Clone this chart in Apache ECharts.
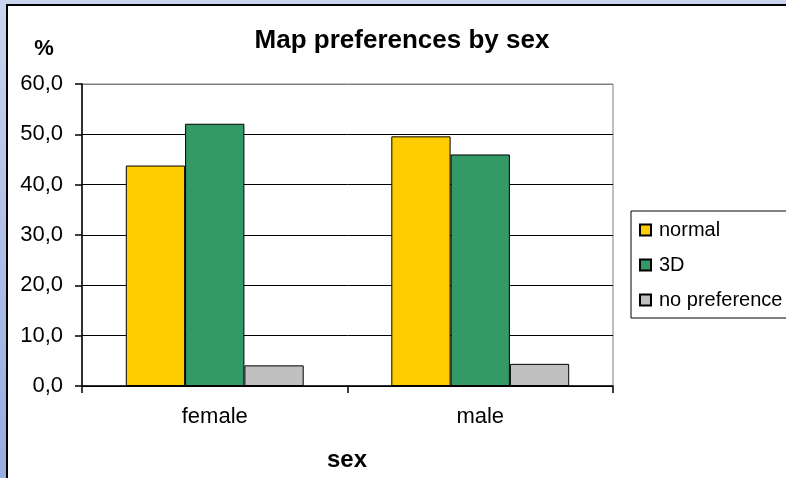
<!DOCTYPE html>
<html>
<head>
<meta charset="utf-8">
<script src="https://cdn.jsdelivr.net/npm/echarts@6/dist/echarts.min.js"></script>
<style>
  html, body { margin: 0; padding: 0; }
  body {
    width: 786px; height: 478px; overflow: hidden; position: relative;
    background: linear-gradient(to bottom, #cbd4ee, #97abe0);
  }
  .frame {
    position: absolute; left: 6px; top: 4px; width: 780px; height: 474px;
    box-sizing: border-box; border-left: 2px solid #000; border-top: 2px solid #000;
    background: #fff;
  }
  #chart { width: 778px; height: 472px; }
</style>
</head>
<body>
<div class="frame"><div id="chart"></div></div>
<script>
// data
var categories = ['female', 'male'];
var seriesNames = ['normal', '3D', 'no preference'];
var normalValues = [43.8, 49.6];
var threeDValues = [52.1, 46.0];
var noPrefValues = [4.1, 4.4];
var seriesColors = ['#FFCC00', '#339966', '#C0C0C0'];

var myChart = echarts.init(document.getElementById('chart'));

var font = 'Arial, "Liberation Sans", sans-serif';

function makeBar(name, data, color) {
    return {
        name: name,
        type: 'bar',
        data: data,
        barGap: '0%',
        barCategoryGap: '33%',
        itemStyle: { color: color, borderColor: '#000', borderWidth: 1 }
    };
}

var option = {
    animation: false,
    textStyle: { fontFamily: font },
    graphic: [
        { type: 'text', x: 394, y: 35,
          style: { text: 'Map preferences by sex', font: 'bold 26px ' + font, fill: '#000', align: 'center', verticalAlign: 'middle' } },
        { type: 'text', x: 36, y: 43,
          style: { text: '%', font: 'bold 22px ' + font, fill: '#000', align: 'center', verticalAlign: 'middle' } },
        { type: 'text', x: 339, y: 454,
          style: { text: 'sex', font: 'bold 24px ' + font, fill: '#000', align: 'center', verticalAlign: 'middle' } }
    ],
    legend: {
        orient: 'vertical',
        left: 623,
        top: 205,
        data: seriesNames,
        icon: 'rect',
        itemWidth: 11,
        itemHeight: 11,
        itemGap: 15,
        padding: [9, 20, 8, 8],
        borderColor: '#000',
        borderWidth: 1,
        textStyle: { fontSize: 20, color: '#000', fontFamily: font, padding: [0, 0, 0, 3] }
    },
    grid: {
        left: 74, right: 173, top: 78, bottom: 92,
        show: true, borderColor: '#808080', borderWidth: 1
    },
    xAxis: {
        type: 'category',
        data: categories,
        axisLine: { lineStyle: { color: '#000', width: 1.5 } },
        axisTick: { show: true, length: 7, lineStyle: { color: '#000', width: 1.5 } },
        axisLabel: { fontSize: 22, color: '#000', margin: 20 }
    },
    yAxis: {
        type: 'value',
        min: 0,
        max: 60,
        interval: 10,
        axisLine: { show: true, lineStyle: { color: '#000', width: 1.5 } },
        axisTick: { show: true, length: 7, lineStyle: { color: '#000', width: 1.5 } },
        axisLabel: {
            fontSize: 22, color: '#000', margin: 19,
            formatter: function (v) { return v.toFixed(1).replace('.', ','); }
        },
        splitLine: { lineStyle: { color: ['#000', '#000', '#000', '#000', '#000', '#000', '#808080'], width: 1 } }
    },
    series: [
        makeBar(seriesNames[0], normalValues, seriesColors[0]),
        makeBar(seriesNames[1], threeDValues, seriesColors[1]),
        makeBar(seriesNames[2], noPrefValues, seriesColors[2])
    ]
};

myChart.setOption(option);
</script>
</body>
</html>
